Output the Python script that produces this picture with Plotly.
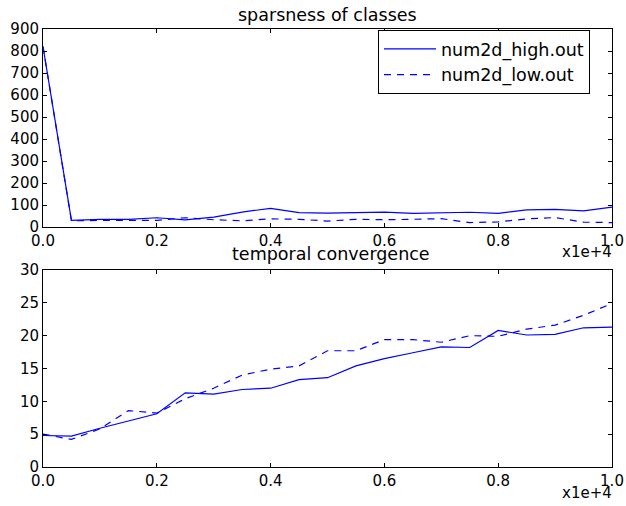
import plotly.graph_objects as go

x_vals = [0, 500, 1000, 1500, 2000, 2500, 3000, 3500, 4000, 4500, 5000,
          5500, 6000, 6500, 7000, 7500, 8000, 8500, 9000, 9500, 10000]

sparse_high = [820, 30, 35, 35, 42, 32, 45, 68, 85, 65, 63,
               67, 68, 62, 65, 67, 62, 78, 80, 73, 90]
sparse_low = [820, 28, 30, 30, 30, 42, 33, 28, 37, 35, 27,
              35, 33, 35, 38, 20, 23, 37, 43, 22, 20]

conv_high = [4.8, 4.7, 5.9, 7.0, 8.1, 11.3, 11.1, 11.8, 12.0, 13.3, 13.6,
             15.4, 16.5, 17.4, 18.3, 18.2, 20.8, 20.1, 20.2, 21.2, 21.3]
conv_low = [5.0, 4.2, 5.8, 8.6, 8.2, 10.4, 12.0, 14.0, 14.9, 15.4, 17.7,
            17.7, 19.4, 19.4, 19.0, 20.0, 19.9, 21.0, 21.6, 23.1, 24.9]

x_tickvals = [0, 2000, 4000, 6000, 8000, 10000]
x_ticktext = ["0.0", "0.2", "0.4", "0.6", "0.8", "1.0"]
y1_ticks = [0, 100, 200, 300, 400, 500, 600, 700, 800, 900]
y2_ticks = [0, 5, 10, 15, 20, 25, 30]

W, H = 626, 506
L, R, T, B = 43, 612, 29, 467   # plot area in pixels
def px(v): return (v - L) / (R - L)
def py(v): return (B - v) / (B - T)

FS = 15
font = dict(family="DejaVu Sans", size=FS, color="black")
title_font = dict(family="DejaVu Sans", size=17.5, color="black")
blue = "#0000ff"
dash = "7px,6px"

fig = go.Figure()
fig.add_trace(go.Scatter(x=x_vals, y=sparse_high, mode="lines", name="num2d_high.out",
                         line=dict(color=blue, width=1.2), xaxis="x", yaxis="y"))
fig.add_trace(go.Scatter(x=x_vals, y=sparse_low, mode="lines", name="num2d_low.out",
                         line=dict(color=blue, width=1.2, dash=dash), xaxis="x", yaxis="y"))
fig.add_trace(go.Scatter(x=x_vals, y=conv_high, mode="lines", showlegend=False,
                         line=dict(color=blue, width=1.2), xaxis="x2", yaxis="y2"))
fig.add_trace(go.Scatter(x=x_vals, y=conv_low, mode="lines", showlegend=False,
                         line=dict(color=blue, width=1.2, dash=dash), xaxis="x2", yaxis="y2"))

axis_common = dict(showgrid=False, zeroline=False, showline=True, linecolor="black",
                   linewidth=1, mirror="allticks", ticks="inside", ticklen=4,
                   tickcolor="black", tickfont=font, automargin=False)

fig.update_layout(
    template="none",
    width=W, height=H,
    margin=dict(l=L, r=W - R, t=T, b=H - B, pad=0, autoexpand=False),
    paper_bgcolor="white", plot_bgcolor="white",
    font=font,
    xaxis=dict(domain=[0, 1], anchor="y", range=[0, 10000],
               tickvals=x_tickvals, ticktext=x_ticktext, **axis_common),
    yaxis=dict(domain=[py(227), 1], anchor="x", range=[0, 900],
               tickvals=y1_ticks, **axis_common),
    xaxis2=dict(domain=[0, 1], anchor="y2", range=[0, 10000],
                tickvals=x_tickvals, ticktext=x_ticktext, **axis_common),
    yaxis2=dict(domain=[0, py(270)], anchor="x2", range=[0, 30],
                tickvals=y2_ticks, **axis_common),
    legend=dict(x=px(378), y=py(30), xanchor="left", yanchor="top",
                bordercolor="black", borderwidth=1, bgcolor="white",
                font=dict(family="DejaVu Sans", size=17.5, color="black"),
                itemwidth=52),
    annotations=[
        dict(text="sparsness of classes", x=px(327.5), y=py(15), xref="paper", yref="paper",
             showarrow=False, xanchor="center", yanchor="middle", font=title_font),
        dict(text="temporal convergence", x=px(331), y=py(254), xref="paper", yref="paper",
             showarrow=False, xanchor="center", yanchor="middle", font=title_font),
        dict(text="x1e+4", x=px(614), y=py(252), xref="paper", yref="paper",
             showarrow=False, xanchor="right", yanchor="middle", font=font),
        dict(text="x1e+4", x=px(614), y=py(493), xref="paper", yref="paper",
             showarrow=False, xanchor="right", yanchor="middle", font=font),
    ],
)

fig.write_html("out.html", config={"displayModeBar": False},
               post_script="document.body.style.margin='0';document.body.style.overflow='hidden';")
